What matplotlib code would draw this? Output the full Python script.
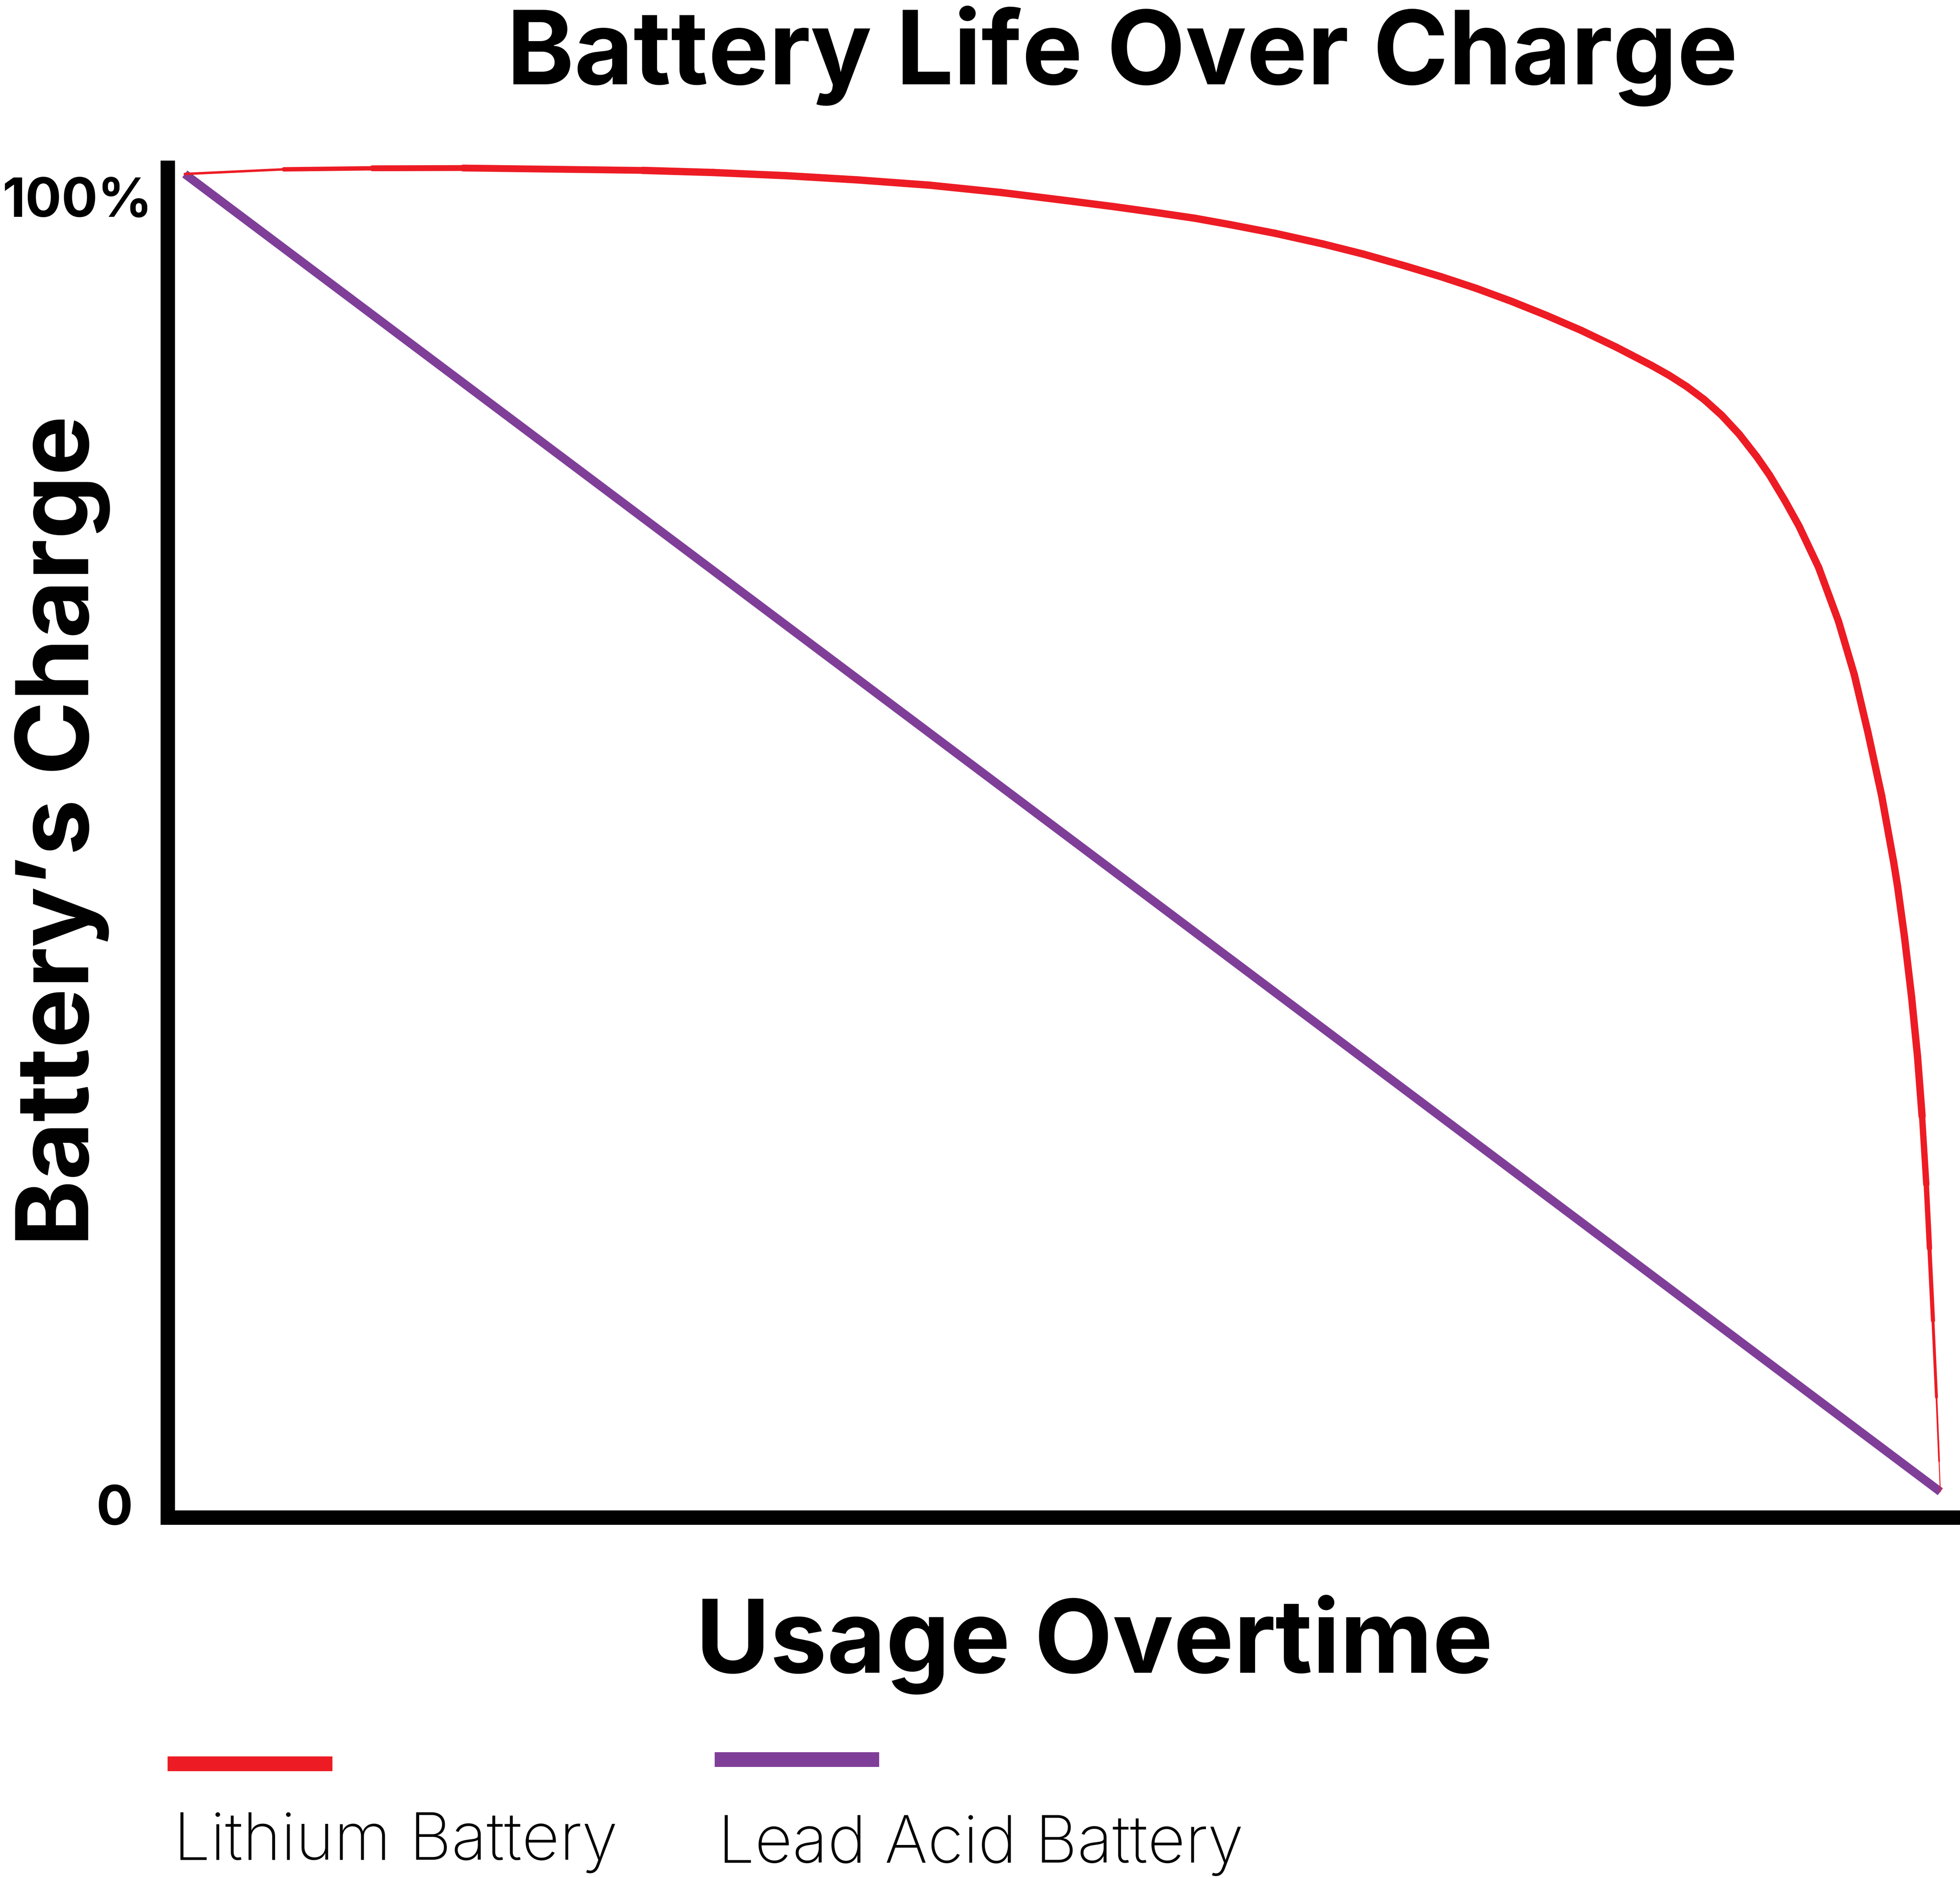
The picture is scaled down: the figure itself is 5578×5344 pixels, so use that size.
import matplotlib
matplotlib.use("Agg")
import numpy as np
import matplotlib.pyplot as plt
from matplotlib.lines import Line2D
from matplotlib.collections import LineCollection

# ---------------- data ----------------
title = "Battery Life Over Charge"
x_label = "Usage Overtime"
y_label = "Battery\u2019s Charge"
series_names = ["Lithium Battery", "Lead Acid Battery"]
series_colors = ["#ED1C24", "#7F3F98"]
ytick_labels = ["0", "100%"]

lithium_x = [0.0, 5.64, 10.69, 15.85, 26.08, 30.10, 34.25, 38.31, 42.41, 46.52,
             50.58, 52.92, 55.24, 57.53, 59.53, 62.13, 64.83, 67.13, 69.54, 71.54,
             73.54, 75.54, 77.54, 79.54, 81.55, 83.55, 84.55, 85.55, 86.55, 87.55,
             88.55, 89.55, 90.27, 91.15, 91.95, 93.07, 94.20, 95.10, 95.88, 96.66,
             97.34, 97.56, 97.96, 98.36, 98.70, 98.96, 99.20, 99.38, 99.58, 99.78,
             99.93, 100.0]
lithium_y = [100.0, 100.35, 100.43, 100.45, 100.27, 100.11, 99.87, 99.55, 99.15, 98.59,
             97.92, 97.52, 97.09, 96.64, 96.16, 95.49, 94.69, 93.92, 93.01, 92.21,
             91.33, 90.35, 89.28, 88.13, 86.85, 85.47, 84.72, 83.87, 82.88, 81.68,
             80.24, 78.53, 77.15, 75.20, 73.28, 70.13, 66.05, 62.00, 57.60, 52.80,
             47.79, 45.97, 42.08, 37.57, 33.04, 28.51, 23.33, 18.48, 12.99, 7.17,
             2.32, 0.0]

lead_x = [0.0, 100.0]
lead_y = [100.0, 0.0]

# ---------------- figure ----------------
W, H = 5578, 5344
DPI = 100
fig = plt.figure(figsize=(W / DPI, H / DPI), dpi=DPI)
fig.patch.set_facecolor("white")

def fx(px):
    return px / W

def fy(py):
    return 1 - py / H

ax = fig.add_axes([fx(477), fy(4318), fx(W) - fx(477), fy(477) - fy(4318)])
ax.set_xlim(-0.98, 101.12)
ax.set_ylim(-1.95, 100.48)

# lithium curve: stroke tapers at both ends like the reference
pts = np.column_stack([lithium_x, lithium_y])
segs = np.stack([pts[:-1], pts[1:]], axis=1)
n = len(segs)
widths = np.full(n, 15.0)
widths[:4] = [5.0, 9.0, 12.0, 14.0]
widths[-6:] = [13.0, 11.0, 8.5, 6.0, 3.5, 2.0]
lc = LineCollection(segs, colors=series_colors[0], linewidths=widths,
                    capstyle="round", joinstyle="round", zorder=3, clip_on=False)
ax.add_collection(lc)

ax.plot(lead_x, lead_y, color=series_colors[1], lw=17.5, solid_capstyle="butt",
        clip_on=False, zorder=2)

for s in ["top", "right"]:
    ax.spines[s].set_visible(False)
for s in ["left", "bottom"]:
    ax.spines[s].set_linewidth(29.5)
    ax.spines[s].set_color("black")
ax.spines["bottom"].set_capstyle("projecting")
ax.set_xticks([])
ax.set_yticks([])

fam = ["Inter", "DejaVu Sans"]
font_bold = dict(family=fam, weight="bold")
font_light = dict(family=fam, weight="light")

# tick labels
fig.text(fx(379), fy(4338), ytick_labels[0], ha="right", va="baseline", fontsize=112, **font_bold)
fig.text(fx(433), fy(617), ytick_labels[1], ha="right", va="baseline", fontsize=110, **font_bold)

# title and axis labels
fig.text(fx(3194), fy(240), title, ha="center", va="baseline", fontsize=209, **font_bold)
fig.text(fx(3114), fy(4760), x_label, ha="center", va="baseline", fontsize=208, **font_bold)
fig.text(fx(252), fy(2365), y_label, ha="center", va="baseline", rotation=90,
         rotation_mode="anchor", fontsize=206, **font_bold)

# legend (hand placed)
legend_handles = [(477, 946, 5019), (2034, 2502, 5007)]
legend_text_pos = [(494, 5292), (2043, 5300)]
for (x0, x1, yy), (tx, ty), name, col in zip(legend_handles, legend_text_pos, series_names, series_colors):
    fig.add_artist(Line2D([fx(x0), fx(x1)], [fy(yy), fy(yy)], transform=fig.transFigure,
                          color=col, lw=30.2, solid_capstyle="butt"))
    fig.text(fx(tx), fy(ty), name, ha="left", va="baseline", fontsize=134, **font_light)

fig.savefig("out.png", dpi=DPI, facecolor="white")
